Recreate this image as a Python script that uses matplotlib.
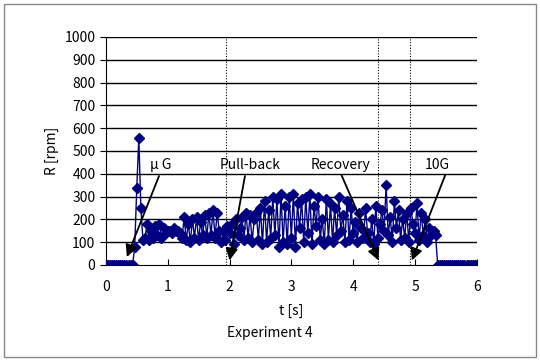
import numpy as np
import matplotlib.pyplot as plt
from matplotlib.patches import Rectangle

plt.rcParams['font.family'] = ['Noto Sans CJK JP', 'DejaVu Sans']

# rotation speed R [rpm], sampled at ~30 frames/s from 0 to 6 s
r_start = [0] * 14
r_spike = [80, 336, 556, 249, 110]
r_mid = [120, 180, 110, 150, 120, 170, 130, 180, 120, 160, 140, 150,
         150, 140, 160, 150, 150, 140, 120, 210, 110,
         180, 100, 200, 120, 210, 110, 190, 130, 220, 120, 230, 130,
         240, 120, 230, 150, 100, 150, 110, 170, 140,
         180, 90, 200, 130, 160, 210, 110, 230, 120, 220, 100, 200,
         230, 110, 250, 90, 280, 100, 240, 120, 300, 130, 290, 80,
         310, 100, 260, 90, 300, 120, 310, 80, 270, 160, 290, 100,
         300, 140, 310, 90, 260, 170, 300, 110, 200, 90, 290, 110,
         270, 100, 250, 130, 300, 150, 220, 100, 280, 110, 250, 140,
         190, 100, 230, 160, 120, 250, 140, 100, 200, 90, 260, 120,
         180, 240, 150, 350, 130, 210, 100, 280, 160, 240, 110, 200,
         120, 230, 100, 250, 180, 140, 270, 110, 230, 130, 200, 100, 160, 130, 150, 130]
r_end = [0] * 20
R = np.array(r_start + r_spike + r_mid + r_end)
t = np.linspace(0, 6, len(R))

event_times = [1.95, 4.40, 4.92]
labels = ["\u03bc G", "Pull-back", "Recovery", "10G"]
label_x = [0.88, 2.33, 3.79, 5.36]
arrow_tip = [(0.34, 35), (2.0, 20), (4.41, 20), (4.95, 20)]
arrow_tail = [(0.86, 390), (2.25, 390), (3.81, 395), (5.49, 395)]

fig = plt.figure(figsize=(5.4, 3.62), dpi=100)
fig.patches.append(Rectangle((0.008, 0.013), 0.984, 0.975, transform=fig.transFigure,
                             fill=False, edgecolor='#888888', lw=1))
ax = fig.add_axes([0.196, 0.268, 0.687, 0.63])

for y in range(100, 1001, 100):
    ax.axhline(y, color='black', lw=1, zorder=1)
for x in event_times:
    ax.plot([x, x], [0, 1000], color='black', ls=(0, (1, 1.5)), lw=0.8, zorder=1)

ax.plot(t, R, color='#000080', lw=1, marker='D', ms=5, zorder=3)

for lab, lx, tip, tail in zip(labels, label_x, arrow_tip, arrow_tail):
    ax.text(lx, 440, lab, ha='center', va='center', fontsize=10, zorder=4)
    ax.annotate('', xy=tip, xytext=tail,
                arrowprops=dict(arrowstyle='-|>', color='black', lw=1.3,
                                mutation_scale=18, shrinkA=0, shrinkB=0), zorder=4)

ax.set_xlim(0, 6)
ax.set_ylim(0, 1000)
ax.set_xticks(range(0, 7))
ax.set_yticks(range(0, 1001, 100))
ax.tick_params(axis='x', direction='in', length=4, labelsize=10, pad=11)
ax.tick_params(axis='y', direction='out', length=4, labelsize=10)
ax.spines['top'].set_visible(False)
ax.spines['right'].set_visible(False)
ax.set_xlabel("t [s]", fontsize=10, labelpad=7)
ax.set_ylabel("R [rpm]", fontsize=10, labelpad=4)
fig.text(0.5, 0.08, "Experiment 4", ha='center', va='center', fontsize=10)

fig.savefig("out.png", dpi=100)
